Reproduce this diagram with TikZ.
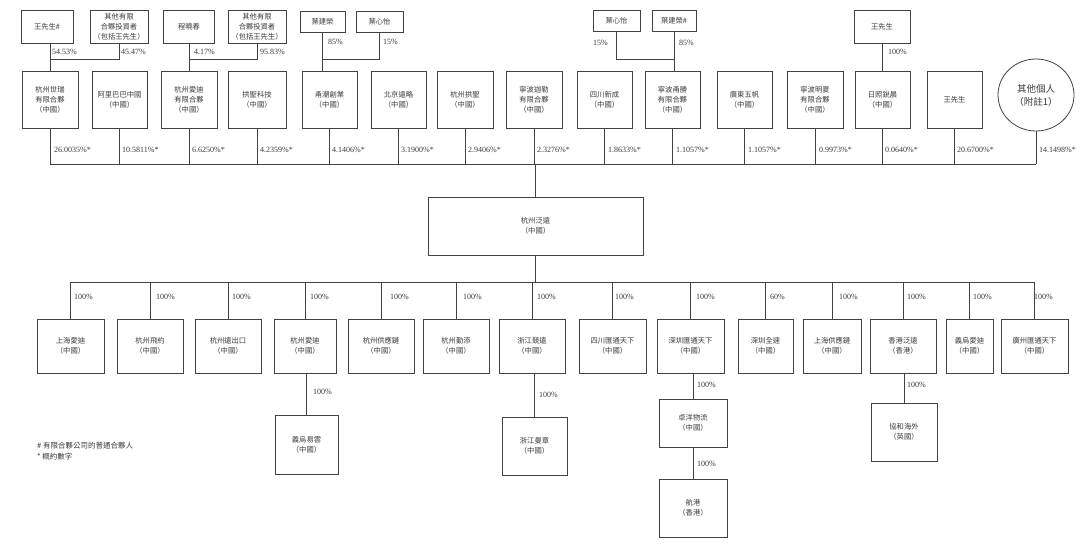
\documentclass[tikz,border=0pt]{standalone}
\usepackage{fontspec}
\setmainfont{Liberation Serif}
\newfontfamily\cjk{Noto Sans CJK TC}
\usetikzlibrary{shapes.geometric}
\definecolor{linecol}{RGB}{72,64,64}
\definecolor{textcol}{RGB}{60,58,58}
\begin{document}
\begin{tikzpicture}[x=1pt,y=-1pt,
  box/.style={draw=linecol, line width=0.8pt, inner sep=0pt, align=center, text=textcol,
              font=\cjk\fontsize{7.3}{10}\selectfont},
  conn/.style={draw=linecol, line width=0.8pt},
  pct/.style={anchor=west, inner sep=0pt, text=textcol, font=\fontsize{8}{9}\selectfont},
  foot/.style={anchor=west, inner sep=0pt, text=textcol, font=\cjk\fontsize{7.5}{10}\selectfont}]
\useasboundingbox[fill=white] (0,0) rectangle (1080,547);

% levels
\coordinate (j1) at (0,59);
\coordinate (bus1) at (0,164);
\coordinate (bus2) at (0,282);

% top owners
\node[box, minimum width=52, minimum height=33] (o1) at (47,26.5) {王先生\#};
\node[box, minimum width=58, minimum height=33] (o2) at (119,26.5) {其他有限\\合夥投資者\\（包括王先生）};
\node[box, minimum width=51, minimum height=33] (o3) at (189,26.5) {程曉春};
\node[box, minimum width=58, minimum height=33] (o4) at (257,26.5) {其他有限\\合夥投資者\\（包括王先生）};
\node[box, minimum width=45, minimum height=21] (o5) at (322.5,21.5) {葉建榮};
\node[box, minimum width=47, minimum height=21] (o6) at (379.5,21.5) {葉心怡};
\node[box, minimum width=47, minimum height=21] (o7) at (616.5,20.5) {葉心怡};
\node[box, minimum width=44, minimum height=21] (o8) at (674,20.5) {葉建榮\#};
\node[box, minimum width=56, minimum height=33] (o9) at (882,26.5) {王先生};

% shareholders
\node[box, minimum width=56, minimum height=57] (s1) at (50,99.5) {杭州世瑞\\有限合夥\\（中國）};
\node[box, minimum width=55, minimum height=57] (s2) at (119.5,99.5) {阿里巴巴中國\\（中國）};
\node[box, minimum width=56, minimum height=57] (s3) at (189,99.5) {杭州愛迪\\有限合夥\\（中國）};
\node[box, minimum width=58, minimum height=57] (s4) at (257,99.5) {拱聖科技\\（中國）};
\node[box, minimum width=55, minimum height=57] (s5) at (329.5,99.5) {甬潮創業\\（中國）};
\node[box, minimum width=55, minimum height=57] (s6) at (398.5,99.5) {北京遠略\\（中國）};
\node[box, minimum width=56, minimum height=57] (s7) at (465,99.5) {杭州拱聖\\（中國）};
\node[box, minimum width=56, minimum height=57] (s8) at (534,99.5) {寧波迦勒\\有限合夥\\（中國）};
\node[box, minimum width=55, minimum height=57] (s9) at (604.5,99.5) {四川新成\\（中國）};
\node[box, minimum width=55, minimum height=57] (s10) at (672.5,99.5) {寧波甬勝\\有限合夥\\（中國）};
\node[box, minimum width=55, minimum height=57] (s11) at (744.5,99.5) {廣東五帆\\（中國）};
\node[box, minimum width=56, minimum height=57] (s12) at (815,99.5) {寧波明夏\\有限合夥\\（中國）};
\node[box, minimum width=55, minimum height=57] (s13) at (882.5,99.5) {日照銳晨\\（中國）};
\node[box, minimum width=55, minimum height=57] (s14) at (954.5,99.5) {王先生};
\node[box, ellipse, minimum width=76, minimum height=72, font=\cjk\fontsize{9.5}{13}\selectfont] (s15) at (1036,95) {其他個人\\（附註1）};

% owner connectors
\draw[conn] (s1.north |- o1.south) -- (s1.north);
\draw[conn] (o2.south) -- (o2.south |- j1) -- (s1.north |- j1);
\draw[conn] (o3.south) -- (o3.south |- s3.north);
\draw[conn] (o4.south) -- (o4.south |- j1) -- (o3.south |- j1);
\draw[conn] (o5.south) -- (o5.south |- s5.north);
\draw[conn] (o6.south) -- (o6.south |- j1) -- (o5.south |- j1);
\draw[conn] (o8.south) -- (o8.south |- s10.north);
\draw[conn] (o7.south) -- (o7.south |- j1) -- (o8.south |- j1);
\draw[conn] (o9.south) -- (o9.south |- s13.north);

\node[pct] at (52,52) {54.53\%};
\node[pct] at (121,52) {45.47\%};
\node[pct] at (194,52) {4.17\%};
\node[pct] at (260,52) {95.83\%};
\node[pct] at (328,42) {85\%};
\node[pct] at (383,42) {15\%};
\node[pct] at (593,43) {15\%};
\node[pct] at (679,43) {85\%};
\node[pct] at (888,52) {100\%};

% central company
\node[box, minimum width=215, minimum height=58] (c) at (535.5,226) {杭州泛遠\\（中國）};

% shareholder bus
\foreach \s in {s1,s2,s3,s4,s5,s6,s7,s8,s9,s10,s11,s12,s13,s14,s15}
  \draw[conn] (\s.south) -- (\s.south |- bus1);
\draw[conn] (s1.south |- bus1) -- (s15.south |- bus1);
\draw[conn] (c.north |- bus1) -- (c.north);

\node[pct] at (54,150) {26.0035\%*};
\node[pct] at (122,150) {10.5811\%*};
\node[pct] at (192,150) {6.6250\%*};
\node[pct] at (260,150) {4.2359\%*};
\node[pct] at (332,150) {4.1406\%*};
\node[pct] at (401,150) {3.1900\%*};
\node[pct] at (468,150) {2.9406\%*};
\node[pct] at (537,150) {2.3276\%*};
\node[pct] at (608,150) {1.8633\%*};
\node[pct] at (676,150) {1.1057\%*};
\node[pct] at (748,150) {1.1057\%*};
\node[pct] at (819,150) {0.9973\%*};
\node[pct] at (885,150) {0.0640\%*};
\node[pct] at (957,150) {20.6700\%*};
\node[pct] at (1039,150) {14.1498\%*};

% subsidiaries
\node[box, minimum width=67, minimum height=54] (b1) at (70.5,346) {上海愛迪\\（中國）};
\node[box, minimum width=66, minimum height=54] (b2) at (150,346) {杭州飛約\\（中國）};
\node[box, minimum width=66, minimum height=54] (b3) at (228,346) {杭州遠出口\\（中國）};
\node[box, minimum width=62, minimum height=54] (b4) at (305,346) {杭州愛迪\\（中國）};
\node[box, minimum width=66, minimum height=54] (b5) at (381,346) {杭州供應鏈\\（中國）};
\node[box, minimum width=66, minimum height=54] (b6) at (456,346) {杭州勤添\\（中國）};
\node[box, minimum width=66, minimum height=54] (b7) at (532,346) {浙江競遠\\（中國）};
\node[box, minimum width=67, minimum height=54] (b8) at (612.5,346) {四川匯通天下\\（中國）};
\node[box, minimum width=67, minimum height=54] (b9) at (690.5,346) {深圳匯通天下\\（中國）};
\node[box, minimum width=55, minimum height=54] (b10) at (765.5,346) {深圳全速\\（中國）};
\node[box, minimum width=58, minimum height=54] (b11) at (832,346) {上海供應鏈\\（中國）};
\node[box, minimum width=66, minimum height=54] (b12) at (903,346) {香港泛遠\\（香港）};
\node[box, minimum width=47, minimum height=54] (b13) at (969.5,346) {義烏愛迪\\（中國）};
\node[box, minimum width=67, minimum height=54] (b14) at (1034.5,346) {廣州匯通天下\\（中國）};

\draw[conn] (c.south) -- (c.south |- bus2);
\foreach \b in {b1,b2,b3,b4,b5,b6,b7,b8,b9,b10,b11,b12,b13,b14}
  \draw[conn] (\b.north |- bus2) -- (\b.north);
\draw[conn] (b1.north |- bus2) -- (b14.north |- bus2);

\node[pct] at (74,297) {100\%};
\node[pct] at (156,297) {100\%};
\node[pct] at (232,297) {100\%};
\node[pct] at (310,297) {100\%};
\node[pct] at (390,297) {100\%};
\node[pct] at (463,297) {100\%};
\node[pct] at (537,297) {100\%};
\node[pct] at (615,297) {100\%};
\node[pct] at (696,297) {100\%};
\node[pct] at (770,297) {60\%};
\node[pct] at (839,297) {100\%};
\node[pct] at (907,297) {100\%};
\node[pct] at (973,297) {100\%};
\node[pct] at (1034,297) {100\%};

% further levels
\node[box, minimum width=63, minimum height=59] (d1) at (306.5,444.5) {義烏易雲\\（中國）};
\node[box, minimum width=65, minimum height=58] (d2) at (534.5,446) {浙江曼章\\（中國）};
\node[box, minimum width=68, minimum height=48] (e1) at (693,423) {卓洋物流\\（中國）};
\node[box, minimum width=68, minimum height=58] (e2) at (693,508) {航港\\（香港）};
\node[box, minimum width=66, minimum height=58] (f1) at (904,432) {協和海外\\（英國）};

\draw[conn] (d1.north |- b4.south) -- (d1.north);
\draw[conn] (d2.north |- b7.south) -- (d2.north);
\draw[conn] (e1.north |- b9.south) -- (e1.north);
\draw[conn] (e1.south) -- (e2.north);
\draw[conn] (f1.north |- b12.south) -- (f1.north);

\node[pct] at (313,392) {100\%};
\node[pct] at (539,395) {100\%};
\node[pct] at (697,385) {100\%};
\node[pct] at (697,464) {100\%};
\node[pct] at (907,385) {100\%};

% footnotes
\node[foot] (fn1) at (37,446) {\# 有限合夥公司的普通合夥人};
\node[foot] (fn2) at (37,457) {* 概約數字};
\end{tikzpicture}
\end{document}
